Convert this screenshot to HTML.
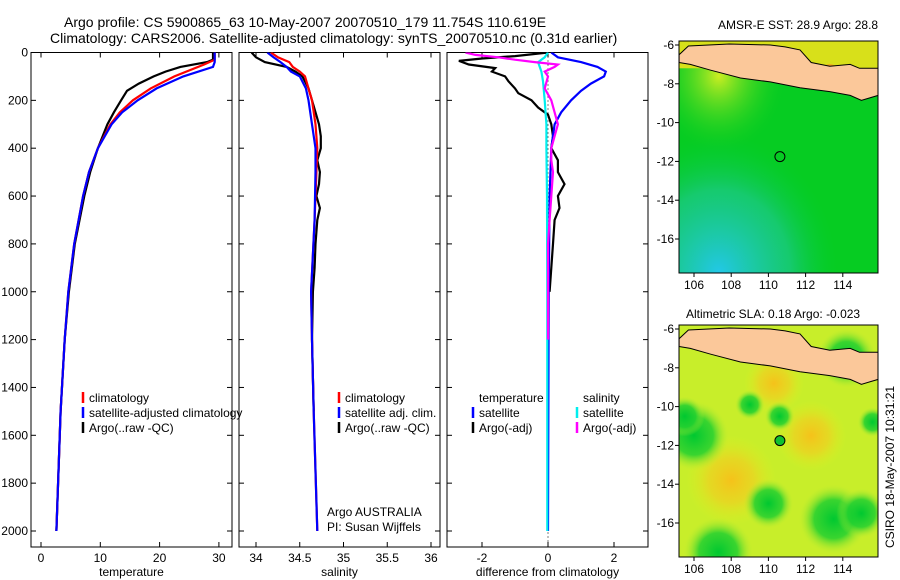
<!DOCTYPE html>
<html><head><meta charset="utf-8"><style>
body{margin:0;background:#fff;}
svg{display:block;font-family:"Liberation Sans",sans-serif;}
text{font-size:12px;fill:#000;}
</style></head><body>
<svg id="fig" width="900" height="580" xmlns="http://www.w3.org/2000/svg">
<defs>
<radialGradient id="cyanblob" cx="0.2" cy="1" r="0.6"><stop offset="0" stop-color="#22c8e8"/><stop offset="0.6" stop-color="#20c8a0" stop-opacity="0.6"/><stop offset="1" stop-color="#00cc33" stop-opacity="0"/></radialGradient>
<radialGradient id="yelblob" cx="0.2" cy="0.15" r="0.35"><stop offset="0" stop-color="#ccee22"/><stop offset="1" stop-color="#00cc22" stop-opacity="0"/></radialGradient>
<radialGradient id="org1" cx="0.5" cy="0.5" r="0.5"><stop offset="0" stop-color="#f5c21a"/><stop offset="0.5" stop-color="#f0d020" stop-opacity="0.7"/><stop offset="1" stop-color="#e0f020" stop-opacity="0"/></radialGradient>
<radialGradient id="grn1" cx="0.5" cy="0.5" r="0.5"><stop offset="0" stop-color="#00c830"/><stop offset="0.55" stop-color="#20d030" stop-opacity="0.85"/><stop offset="1" stop-color="#c0ee30" stop-opacity="0"/></radialGradient>
<clipPath id="clipTop"><rect x="679" y="41" width="199" height="232"/></clipPath>
<clipPath id="clipBot"><rect x="679" y="325" width="199" height="232"/></clipPath>
</defs>
<text x="64" y="27" style="font-size:14px">Argo profile: CS 5900865_63 10-May-2007 20070510_179 11.754S 110.619E</text>
<text x="50" y="43" style="font-size:14px">Climatology: CARS2006. Satellite-adjusted climatology: synTS_20070510.nc (0.31d earlier)</text>
<g id="plots"></g>
<text x="718" y="29">AMSR-E SST: 28.9 Argo: 28.8</text>
<text x="686" y="318">Altimetric SLA: 0.18 Argo: -0.023</text>
<text transform="translate(894,548) rotate(-90)">CSIRO 18-May-2007 10:31:21</text>
</svg>
<script>
// ---------- data ----------
const depthTicks=[0,200,400,600,800,1000,1200,1400,1600,1800,2000];
const tempTicks=[0,10,20,30];
const salTicks=[34,34.5,35,35.5,36];
const salTickLabels=["34","34.5","35","35.5","36"];
const diffTicks=[-2,0,2];
const tClimD=[0,30,50,100,150,200,250,300,400,500,600,800,1000,1200,1500,2000];
const tClimV=[29.3,29.3,27.5,22.5,18.5,15.5,13.3,11.7,9.6,8.1,7.1,5.6,4.6,4.0,3.3,2.6];
const tSatD=[0,40,60,100,150,200,250,300,400,500,600,800,1000,1200,1500,2000];
const tSatV=[29.3,29.3,29.0,24.0,19.5,16.3,13.7,11.9,9.6,8.1,7.1,5.6,4.6,4.0,3.3,2.6];
const tArgoD=[0,30,40,60,80,100,130,160,200,250,300,400,500,600,800,1000,1200,1500,2000];
const tArgoV=[29.0,29.0,28.0,23.5,21.0,19.0,16.5,14.5,13.5,12.3,11.2,9.6,8.3,7.3,5.7,4.7,4.0,3.3,2.6];
const sClimD=[0,20,40,60,80,100,150,200,300,400,500,700,1000,1200,1500,2000];
const sClimV=[34.17,34.25,34.38,34.42,34.5,34.56,34.6,34.64,34.68,34.7,34.69,34.67,34.63,34.64,34.66,34.7];
const sSatD=[0,20,40,60,80,100,150,200,300,400,500,700,1000,1200,1500,2000];
const sSatV=[34.13,34.2,34.28,34.35,34.4,34.5,34.57,34.6,34.64,34.68,34.68,34.67,34.63,34.64,34.66,34.7];
const sArgoD=[0,20,40,60,80,100,150,200,250,300,350,400,450,500,550,600,650,700,800,900,1000,1200,1500];
const sArgoV=[33.95,34.0,34.1,34.35,34.45,34.53,34.6,34.64,34.68,34.72,34.74,34.74,34.7,34.73,34.72,34.69,34.73,34.7,34.68,34.67,34.65,34.64,34.66];
const dTSatD=[0,20,40,60,80,100,130,160,200,250,300,400,600,1000,2000];
const dTSatV=[0.1,0.3,1.0,1.5,1.75,1.7,1.3,1.0,0.7,0.4,0.2,0.1,0.05,0.02,0];
const dTArgoD=[0,15,25,35,50,65,80,100,120,150,170,200,230,260,300,350,400,450,500,550,600,650,700,800,900,1000];
const dTArgoV=[0.0,-1.0,-2.0,-2.7,-2.4,-1.6,-1.7,-1.3,-1.2,-1.0,-0.9,-0.5,-0.3,0.0,0.1,0.15,0.1,0.3,0.3,0.5,0.3,0.35,0.2,0.15,0.1,0.05];
const dSSatD=[0,20,40,80,120,200,300,400,600,1000,1500,2000];
const dSSatV=[0.0,-0.1,-0.3,-0.2,-0.15,-0.1,-0.05,-0.05,-0.03,-0.02,-0.02,-0.02];
const dSArgoD=[0,10,20,30,40,50,60,80,100,150,200,250,300,350,400,450,500,600,700,800,1000,1200];
const dSArgoV=[-2.5,-2.2,-1.5,-1.0,-0.4,0.3,0.2,-0.1,0.0,-0.1,0.1,0.2,0.3,0.2,0.1,0.1,0.15,0.1,0.05,0.0,0.0,0.0];
const lonTicks=[106,108,110,112,114];
const latTicks=[-6,-8,-10,-12,-14,-16];
const argoLon=110.619, argoLat=-11.754;
// ---------- helpers ----------
const NS="http://www.w3.org/2000/svg";
const root=document.getElementById('plots');
function el(tag,attrs,parent){const e=document.createElementNS(NS,tag);for(const k in attrs)e.setAttribute(k,attrs[k]);(parent||root).appendChild(e);return e;}
const yTop=52.5, yPerM=(531-52.5)/2000;
const yD=d=>yTop+d*yPerM;
const panels=[
 {x0:31,x1:232,fx:v=>41+v*5.93,ticks:tempTicks,labels:tempTicks.map(String),xlabel:"temperature",name:"temperature-panel"},
 {x0:239,x1:440,fx:v=>256+(v-34)*87.5,ticks:salTicks,labels:salTickLabels,xlabel:"salinity",name:"salinity-panel"},
 {x0:447,x1:648,fx:v=>548+v*33,ticks:diffTicks,labels:diffTicks.map(String),xlabel:"difference from climatology",name:"difference-panel"}];
const yBot=547;
function line(p,D,V,color,name){
  const pts=D.map((d,i)=>p.fx(V[i]).toFixed(1)+","+yD(d).toFixed(1)).join(" ");
  const l=el('polyline',{points:pts,fill:'none',stroke:color,'stroke-width':2.2,'clip-path':'url(#c'+p.x0+')'});
  
  
}
panels.forEach((p,pi)=>{
  const cp=el('clipPath',{id:'c'+p.x0});el('rect',{x:p.x0,y:yTop,width:p.x1-p.x0,height:yBot-yTop},cp);
  const g=el('g',{});
  
  
  const fr=el('rect',{x:p.x0,y:yTop,width:p.x1-p.x0,height:yBot-yTop,fill:'none',stroke:'#000','stroke-width':1},g);
  
  
  p.ticks.forEach((t,i)=>{const x=p.fx(t);
    el('line',{x1:x,x2:x,y1:yBot,y2:yBot-5,stroke:'#000'},g);el('line',{x1:x,x2:x,y1:yTop,y2:yTop+5,stroke:'#000'},g);
    const tx=el('text',{x:x,y:yBot+15,'text-anchor':'middle'},g);tx.textContent=p.labels[i];
    
    });
  depthTicks.forEach(d=>{const y=yD(d);
    el('line',{x1:p.x0,x2:p.x0+5,y1:y,y2:y,stroke:'#000'},g);el('line',{x1:p.x1,x2:p.x1-5,y1:y,y2:y,stroke:'#000'},g);
    if(pi===0){const tx=el('text',{x:p.x0-3,y:y+4,'text-anchor':'end'},g);tx.textContent=d;
      
      }});
  const xl=el('text',{x:(p.x0+p.x1)/2,y:576,'text-anchor':'middle'},g);xl.textContent=p.xlabel;
  
  
});
const P=panels;
el('line',{x1:P[2].fx(0),x2:P[2].fx(0),y1:yTop,y2:yBot,stroke:'#000','stroke-dasharray':'1,3'});
line(P[0],tArgoD,tArgoV,'#000','temp-argo-line');
line(P[0],tClimD,tClimV,'#f00','temp-climatology-line');
line(P[0],tSatD,tSatV,'#00f','temp-satellite-line');
line(P[1],sArgoD,sArgoV,'#000','sal-argo-line');
line(P[1],sClimD,sClimV,'#f00','sal-climatology-line');
line(P[1],sSatD,sSatV,'#00f','sal-satellite-line');
line(P[2],dTArgoD,dTArgoV,'#000','diff-temp-argo-line');
line(P[2],dTSatD,dTSatV,'#00f','diff-temp-satellite-line');
line(P[2],dSSatD,dSSatV,'#0ee','diff-sal-satellite-line');
line(P[2],dSArgoD,dSArgoV,'#f0f','diff-sal-argo-line');
function legend(x,y,items,name){const g=el('g',{});
  
  
  items.forEach((it,i)=>{const yy=y+i*15;
   if(it[1])el('line',{x1:x,x2:x,y1:yy-10,y2:yy+1,stroke:it[1],'stroke-width':2.5},g);
   const t=el('text',{x:x+6,y:yy},g);t.textContent=it[0];
   
   });}
legend(83,402,[["climatology","#f00"],["satellite-adjusted climatology","#00f"],["Argo(..raw -QC)","#000"]],'temp-legend');
legend(339,402,[["climatology","#f00"],["satellite adj. clim.","#00f"],["Argo(..raw -QC)","#000"]],'sal-legend');
legend(473,402,[["temperature",null],["satellite","#00f"],["Argo(-adj)","#000"]],'diff-temp-legend');
legend(577,402,[["salinity",null],["satellite","#0ee"],["Argo(-adj)","#f0f"]],'diff-sal-legend');
let t1=el('text',{x:327,y:516});t1.textContent="Argo AUSTRALIA";


let t2=el('text',{x:327,y:531});t2.textContent="PI: Susan Wijffels";


// ---------- maps ----------
const mx=lon=>694+(lon-106)*18.6;
const coastN=[[105.2,-6.5],[105.7,-6.05],[107.9,-5.95],[110.1,-6.0],[110.9,-6.1],[111.7,-6.25],[112.3,-6.9],[113.3,-7.1],[114.4,-7.0],[114.9,-7.2],[115.9,-7.2]];
const coastS=[[115.9,-8.6],[115.0,-8.85],[114.4,-8.6],[113.3,-8.4],[111.7,-8.2],[110.1,-7.9],[108.5,-7.7],[106.9,-7.3],[105.8,-7.0],[105.2,-6.9]];
function drawMap(y6,clip,name,kind){
  const my=lat=>y6+(-6-lat)*19.4;
  const g=el('g',{});
  
  
  const x0=679,x1=878,yt=y6-4,yb=y6+228;
  const inner=el('g',{'clip-path':'url(#'+clip+')'},g);
  if(kind==='sst'){
    el('rect',{x:x0,y:yt,width:199,height:232,fill:'#06cc22'},inner);
    el('rect',{x:x0,y:yt,width:199,height:232,fill:'url(#yelblob)'},inner);
    el('rect',{x:x0,y:yt,width:199,height:232,fill:'url(#cyanblob)'},inner);
    el('rect',{x:x0,y:yt,width:199,height:my(-7.2)-yt,fill:'#d8e01a'},inner);
    el('circle',{cx:mx(113.3),cy:my(-7.5),r:10,fill:'#f0a020'},inner);
  } else {
    el('rect',{x:x0,y:yt,width:199,height:232,fill:'#c8ee2a'},inner);
    [[108,-13.8,90,'org1'],[112.3,-11.5,70,'org1'],[110.3,-8.8,60,'org1'],[106,-11.5,70,'grn1'],[109,-9.9,30,'grn1'],[110.6,-10.5,30,'grn1'],[110,-15,50,'grn1'],[113.5,-15.8,70,'grn1'],[115,-15.5,50,'grn1'],[107.3,-17.5,70,'grn1'],[114.2,-7.5,60,'grn1'],[115.6,-10.8,30,'grn1'],[105.5,-10.5,40,'grn1']].forEach(b=>{
      el('circle',{cx:mx(b[0]),cy:my(b[1]),r:b[2]/2,fill:'url(#'+b[3]+')'},inner);});
  }
  const pts=coastN.concat(coastS).map(c=>mx(c[0]).toFixed(1)+","+my(c[1]).toFixed(1)).join(" ");
  const land=el('polygon',{points:pts,fill:'#fbc89a',stroke:'#000','stroke-width':1},inner);
  
  
  const mk=el('circle',{cx:mx(argoLon),cy:my(argoLat),r:5,fill:kind==='sla'?'#10c030':'none',stroke:'#000'},g);
  
  
  el('rect',{x:x0,y:yt,width:199,height:232,fill:'none',stroke:'#000'},g);
  lonTicks.forEach(l=>{const x=mx(l);el('line',{x1:x,x2:x,y1:yb,y2:yb+4,stroke:'#000'},g);
    const t=el('text',{x:x,y:yb+16,'text-anchor':'middle'},g);t.textContent=l;
    
    });
  latTicks.forEach(l=>{const y=my(l);el('line',{x1:x0-4,x2:x0,y1:y,y2:y,stroke:'#000'},g);
    const t=el('text',{x:x0-5,y:y+4,'text-anchor':'end'},g);t.textContent=l;
    
    });
}
drawMap(45,'clipTop','sst-map','sst');
drawMap(329,'clipBot','sla-map','sla');
</script>
</body></html>
